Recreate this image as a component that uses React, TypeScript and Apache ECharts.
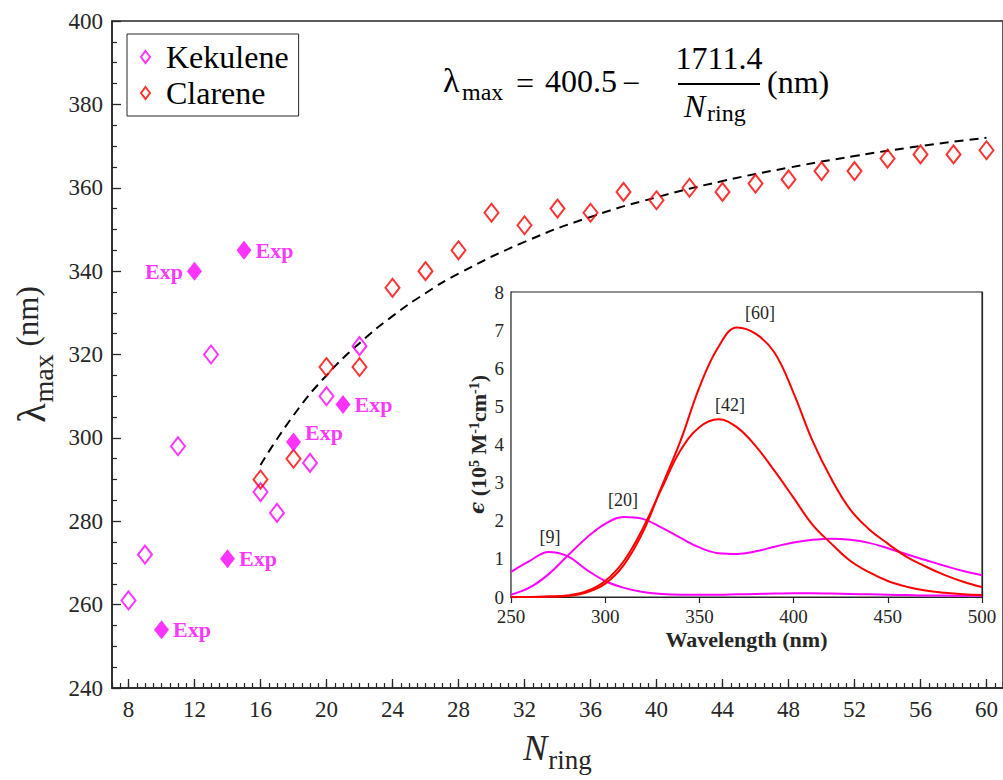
import React, { useEffect, useRef } from "react";
import * as echarts from "echarts";

// ---- main panel data ----
const kekN = [8, 9, 11, 13, 16, 17, 19, 20, 22];
const kekVal = [261, 272, 298, 320, 287, 282, 294, 310, 322];
const expN = [10, 12, 14, 15, 18, 21];
const expVal = [254, 340, 271, 345, 299, 308];
const expText = ["Exp", "Exp", "Exp", "Exp", "Exp", "Exp"];
const expSide = ["right", "left", "right", "right", "right", "right"];
const claN = [16, 18, 20, 22, 24, 26, 28, 30, 32, 34, 36, 38, 40, 42, 44, 46, 48, 50, 52, 54, 56, 58, 60];
const claVal = [290, 295, 317, 317, 336, 340, 345, 354, 351, 355, 354, 359, 357, 360, 359, 361, 362, 364, 364, 367, 368, 368, 369];
const fitN = [16, 18, 20, 22, 24, 26, 28, 32, 36, 40, 44, 48, 52, 56, 60];
const fitVal = [293.5, 305.4, 315.0, 322.7, 329.2, 334.7, 339.4, 347.0, 353.0, 357.7, 361.6, 364.8, 367.6, 370.0, 372.0];
const nTicks = [8, 12, 16, 20, 24, 28, 32, 36, 40, 44, 48, 52, 56, 60];

// ---- inset data ----
const wl = [250, 260, 270, 280, 290, 300, 310, 320, 330, 340, 350, 360, 370, 380, 390, 400, 410, 420, 430, 440, 450, 460, 470, 480, 490, 500];
const k9 = [0.66, 0.95, 1.18, 1.07, 0.72, 0.42, 0.24, 0.13, 0.08, 0.06, 0.06, 0.06, 0.07, 0.08, 0.09, 0.1, 0.1, 0.09, 0.08, 0.07, 0.06, 0.05, 0.04, 0.04, 0.03, 0.03];
const k20 = [0.06, 0.25, 0.6, 1.08, 1.55, 1.92, 2.1, 2.05, 1.82, 1.55, 1.3, 1.15, 1.13, 1.2, 1.32, 1.43, 1.5, 1.53, 1.5, 1.42, 1.28, 1.12, 0.97, 0.82, 0.68, 0.57];
const c42 = [0, 0, 0.01, 0.04, 0.15, 0.42, 0.95, 1.8, 2.85, 3.85, 4.45, 4.66, 4.45, 3.95, 3.3, 2.6, 1.9, 1.4, 0.95, 0.65, 0.42, 0.27, 0.17, 0.11, 0.07, 0.05];
const c60 = [0, 0, 0.01, 0.03, 0.12, 0.35, 0.85, 1.7, 2.9, 4.1, 5.5, 6.55, 7.07, 6.9, 6.4, 5.35, 4.1, 3.1, 2.3, 1.78, 1.4, 1.05, 0.8, 0.58, 0.4, 0.26];
const insetNames = ["[9]", "[20]", "[42]", "[60]"];

const FONT = "Liberation Serif";
const AX = "#262626";
const MAG = "#FF00FF";
const RED = "#FF0000";

function pairs(xs: number[], ys: number[]) {
  return xs.map((x, i) => [x, ys[i]]);
}

export default function App() {
  const ref = useRef<HTMLDivElement>(null);
  useEffect(() => {
    if (!ref.current) return;
    const chart = echarts.init(ref.current, undefined, { renderer: "svg" });
    const insetLine = (name: string, vals: number[], color: string) => ({
      type: "line",
      name,
      xAxisIndex: 2,
      yAxisIndex: 1,
      data: pairs(wl, vals),
      smooth: 0.4,
      symbol: "none",
      lineStyle: { color, width: 2 },
      z: 10,
    });
    const txt = (text: string, x: number, y: number, size: number, align = "left", extra: any = {}) => ({
      type: "text",
      x,
      y,
      z: 50,
      style: {
        text,
        fill: "#000",
        fontFamily: FONT,
        fontSize: size,
        textAlign: align,
        textVerticalAlign: "middle",
        ...extra,
      },
    });
    const option: any = {
      animation: false,
      backgroundColor: "#fff",
      textStyle: { fontFamily: FONT },
      grid: [
        { left: 112, top: 21, width: 891, height: 667, show: true, borderColor: AX, borderWidth: 1.5, backgroundColor: "transparent" },
        { left: 511, top: 292, width: 471, height: 305, show: true, borderColor: AX, borderWidth: 1.2, backgroundColor: "#fff", z: 5 },
      ],
      legend: {
        data: [
          { name: "Kekulene", icon: "diamond", itemStyle: { color: "rgba(0,0,0,0)", borderColor: MAG, borderWidth: 2 } },
          { name: "Clarene", icon: "diamond", itemStyle: { color: "rgba(0,0,0,0)", borderColor: RED, borderWidth: 2 } },
        ],
        orient: "vertical",
        left: 127,
        top: 34,
        padding: [7, 10, 7, 13],
        itemWidth: 9,
        itemHeight: 12,
        itemGap: 4,
        backgroundColor: "#fff",
        borderColor: AX,
        borderWidth: 1,
        selectedMode: false,
        textStyle: { fontFamily: FONT, fontSize: 32, color: "#000", padding: [0, 0, 0, 11] },
      },
      xAxis: [
        {
          gridIndex: 0,
          type: "value",
          min: 7,
          max: 61,
          position: "bottom",
          axisLine: { show: true, lineStyle: { color: AX, width: 1.5 } },
          axisTick: { show: true, inside: true, length: 9, customValues: nTicks, lineStyle: { color: AX, width: 1.3 } },
          axisLabel: { customValues: nTicks, fontFamily: FONT, fontSize: 23, color: AX, margin: 10 },
          splitLine: { show: false },
          name: "{n|N}{s|ring}",
          nameLocation: "middle",
          nameGap: 42,
          nameTextStyle: {
            fontFamily: FONT,
            color: AX,
            rich: {
              n: { fontFamily: FONT, fontSize: 36, fontStyle: "italic", color: AX, verticalAlign: "top", lineHeight: 36 },
              s: { fontFamily: FONT, fontSize: 27, color: AX, verticalAlign: "bottom", padding: [16, 0, 0, 1] },
            },
          },
        },
        {
          gridIndex: 0,
          type: "value",
          min: 7,
          max: 61,
          interval: 0.5,
          position: "bottom",
          axisLine: { show: false },
          axisTick: { show: true, inside: true, length: 5, lineStyle: { color: AX, width: 1.2 } },
          axisLabel: { show: false },
          splitLine: { show: false },
        },
        {
          gridIndex: 1,
          type: "value",
          min: 250,
          max: 500,
          interval: 50,
          position: "bottom",
          axisLine: { show: true, lineStyle: { color: AX, width: 1.2 } },
          axisTick: { show: true, inside: true, length: 6, lineStyle: { color: AX, width: 1.2 } },
          axisLabel: { fontFamily: FONT, fontSize: 19, color: AX, margin: 10 },
          splitLine: { show: false },
          name: "Wavelength (nm)",
          nameLocation: "middle",
          nameGap: 31,
          nameTextStyle: { fontFamily: FONT, fontSize: 22, fontWeight: "bold", color: AX },
        },
        {
          gridIndex: 1,
          type: "value",
          min: 250,
          max: 500,
          interval: 50,
          position: "top",
          axisLine: { show: true, lineStyle: { color: AX, width: 1.2 } },
          axisTick: { show: true, inside: true, length: 6, lineStyle: { color: AX, width: 1.2 } },
          axisLabel: { show: false },
          splitLine: { show: false },
        },
      ],
      yAxis: [
        {
          gridIndex: 0,
          type: "value",
          min: 240,
          max: 400,
          interval: 20,
          axisLine: { show: true, lineStyle: { color: AX, width: 1.5 } },
          axisTick: { show: true, inside: true, length: 9, lineStyle: { color: AX, width: 1.3 } },
          minorTick: { show: true, splitNumber: 4, length: 5, lineStyle: { color: AX, width: 1.2 } },
          axisLabel: { fontFamily: FONT, fontSize: 23, color: AX, margin: 9 },
          splitLine: { show: false },
          name: "{l|λ}{s|max}{n| (nm)}",
          nameLocation: "middle",
          nameRotate: 90,
          nameGap: 52,
          nameTextStyle: {
            fontFamily: FONT,
            color: AX,
            rich: {
              l: { fontFamily: FONT, fontSize: 40, color: AX, verticalAlign: "top", lineHeight: 40 },
              s: { fontFamily: FONT, fontSize: 28, color: AX, verticalAlign: "bottom", padding: [18, 0, 0, 1] },
              n: { fontFamily: FONT, fontSize: 31, color: AX, verticalAlign: "top", lineHeight: 40 },
            },
          },
        },
        {
          gridIndex: 1,
          type: "value",
          min: 0,
          max: 8,
          interval: 1,
          axisLine: { show: true, lineStyle: { color: AX, width: 1.2 } },
          axisTick: { show: true, inside: true, length: 6, lineStyle: { color: AX, width: 1.2 } },
          axisLabel: { fontFamily: FONT, fontSize: 19, color: AX, margin: 7 },
          splitLine: { show: false },
          name: "{e|ϵ}{b| (10}{p|5}{b| M}{p|-1}{b|cm}{p|-1}{b|)}",
          nameLocation: "middle",
          nameRotate: 90,
          nameGap: 16,
          nameTextStyle: {
            fontFamily: FONT,
            color: AX,
            rich: {
              e: { fontFamily: "DejaVu Serif", fontSize: 20, fontStyle: "italic", fontWeight: "bold", color: AX, verticalAlign: "top", lineHeight: 28 },
              b: { fontFamily: FONT, fontSize: 22, fontWeight: "bold", color: AX, verticalAlign: "top", lineHeight: 28 },
              p: { fontFamily: FONT, fontSize: 14, fontWeight: "bold", color: AX, verticalAlign: "top", lineHeight: 14 },
            },
          },
        },
        {
          gridIndex: 1,
          type: "value",
          min: 0,
          max: 8,
          interval: 1,
          position: "right",
          axisLine: { show: true, lineStyle: { color: AX, width: 1.2 } },
          axisTick: { show: true, inside: true, length: 6, lineStyle: { color: AX, width: 1.2 } },
          axisLabel: { show: false },
          splitLine: { show: false },
        },
      ],
      series: [
        {
          type: "line",
          name: "fit",
          xAxisIndex: 0,
          yAxisIndex: 0,
          data: pairs(fitN, fitVal),
          smooth: true,
          symbol: "none",
          lineStyle: { color: "#000", width: 2, type: [9, 6] },
          z: 2,
        },
        {
          type: "scatter",
          name: "Kekulene",
          xAxisIndex: 0,
          yAxisIndex: 0,
          data: pairs(kekN, kekVal),
          symbol: "diamond",
          symbolSize: [14, 18],
          itemStyle: { color: "rgba(0,0,0,0)", borderColor: MAG, borderWidth: 2 },
          z: 3,
        },
        {
          type: "scatter",
          name: "Clarene",
          xAxisIndex: 0,
          yAxisIndex: 0,
          data: pairs(claN, claVal),
          symbol: "diamond",
          symbolSize: [14, 18],
          itemStyle: { color: "rgba(0,0,0,0)", borderColor: RED, borderWidth: 2 },
          z: 3,
        },
        {
          type: "scatter",
          name: "Kekulene (Exp)",
          xAxisIndex: 0,
          yAxisIndex: 0,
          data: expN.map((n, i) => ({
            value: [n, expVal[i]],
            label: { position: expSide[i], offset: n === 18 ? [0, -10] : [0, 0] },
          })),
          symbol: "diamond",
          symbolSize: [15, 19],
          itemStyle: { color: MAG },
          label: {
            show: true,
            formatter: (p: any) => expText[p.dataIndex],
            fontFamily: FONT,
            fontWeight: "bold",
            fontSize: 22,
            color: MAG,
            distance: 4,
          },
          z: 4,
        },
        insetLine("k9", k9, MAG),
        insetLine("k20", k20, MAG),
        insetLine("c42", c42, RED),
        insetLine("c60", c60, RED),
      ],
      graphic: [
        txt("λ", 443, 80, 34),
        txt("max", 462, 92, 24),
        txt("=", 525, 83, 32, "center"),
        txt("400.5", 545, 81, 32),
        txt("−", 631, 83, 32, "center"),
        { type: "line", z: 50, shape: { x1: 678, y1: 84, x2: 760, y2: 84 }, style: { stroke: "#000", lineWidth: 2 } },
        txt("1711.4", 719, 58, 32, "center"),
        txt("N", 684, 106, 32, "left", { fontStyle: "italic" }),
        txt("ring", 707, 113, 24),
        txt("(nm)", 767, 82, 32),
        txt(insetNames[0], 550, 537, 18, "center", { fill: AX }),
        txt(insetNames[1], 623, 500, 18, "center", { fill: AX }),
        txt(insetNames[2], 730, 405, 18, "center", { fill: AX }),
        txt(insetNames[3], 760, 313, 18, "center", { fill: AX }),
      ],
    };
    chart.setOption(option);
    return () => chart.dispose();
  }, []);
  return (
    <div
      ref={ref}
      style={{ position: "fixed", left: 0, top: 0, width: 1003, height: 780, background: "#fff" }}
    />
  );
}
